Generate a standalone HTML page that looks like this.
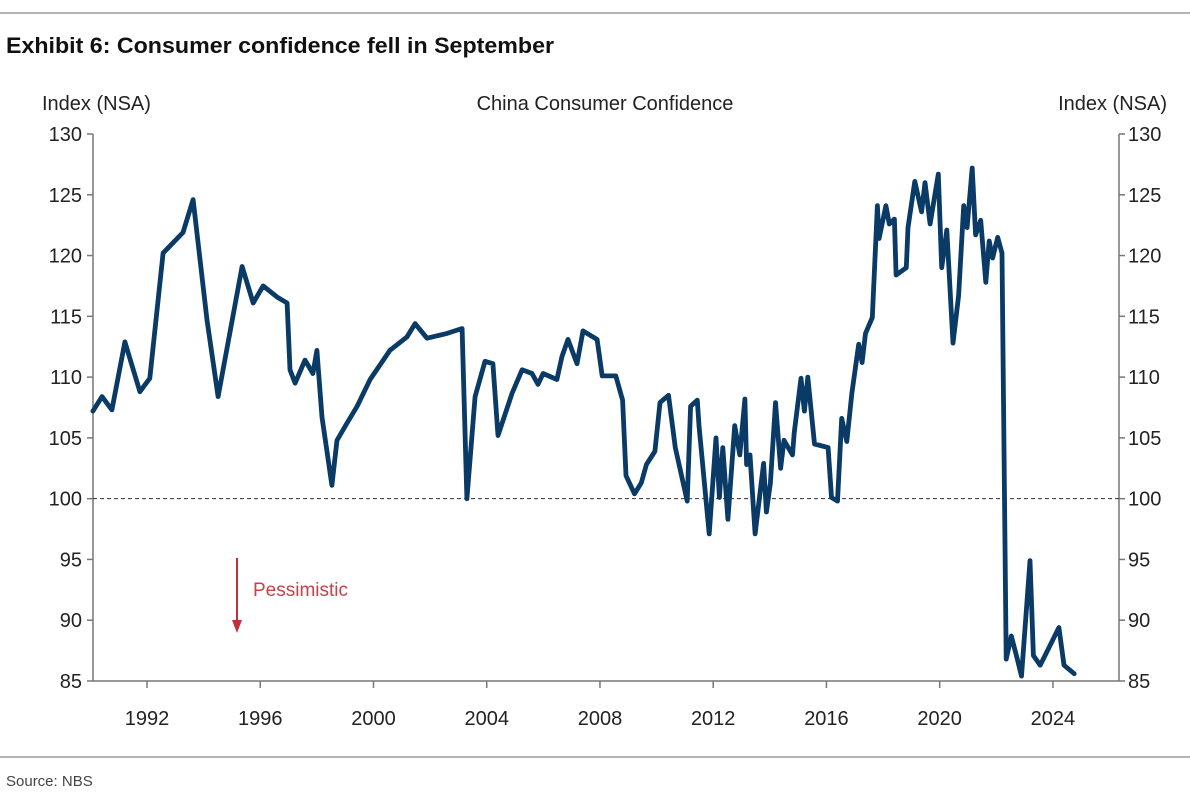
<!DOCTYPE html>
<html><head><meta charset="utf-8"><style>
body{margin:0;background:#fff;width:1190px;height:796px;overflow:hidden;font-family:"Liberation Sans",sans-serif}
</style></head><body>
<svg width="1190" height="796" xmlns="http://www.w3.org/2000/svg">
<line x1="0" y1="13" x2="1190" y2="13" stroke="#9a9a9a" stroke-width="1.5"/>
<text x="6" y="53" font-size="22" font-weight="bold" fill="#111" textLength="548" lengthAdjust="spacingAndGlyphs">Exhibit 6: Consumer confidence fell in September</text>
<text x="42" y="110" font-size="20" fill="#222">Index (NSA)</text>
<text x="1167" y="110" font-size="20" fill="#222" text-anchor="end">Index (NSA)</text>
<text x="605" y="110" font-size="20" fill="#222" text-anchor="middle">China Consumer Confidence</text>
<g id="axes"></g>
<g id="series"></g>
<line x1="237" y1="558" x2="237" y2="622" stroke="#c0313c" stroke-width="2"/>
<polygon points="232,620 242,620 237,633" fill="#c0313c"/>
<text x="253" y="596" font-size="19" fill="#c8404a">Pessimistic</text>
<line x1="0" y1="757" x2="1190" y2="757" stroke="#9a9a9a" stroke-width="1.5"/>
<text x="6" y="786" font-size="15" fill="#444">Source: NBS</text>
</svg>
<script>
const yTicks=[85,90,95,100,105,110,115,120,125,130];
const xTickYears=[1992,1996,2000,2004,2008,2012,2016,2020,2024];
const years=[1990.09,1990.41,1990.76,1991.22,1991.75,1992.1,1992.57,1993.27,1993.63,1994.12,1994.51,1995.36,1995.75,1996.1,1996.59,1996.95,1997.05,1997.23,1997.58,1997.86,1998.0,1998.18,1998.53,1998.71,1999.06,1999.42,1999.88,2000.58,2001.18,2001.47,2001.89,2002.6,2003.13,2003.3,2003.59,2003.94,2004.22,2004.4,2004.9,2005.25,2005.6,2005.81,2005.99,2006.48,2006.66,2006.87,2007.19,2007.4,2007.9,
2008.08,2008.56,2008.8,2008.92,2009.22,2009.46,2009.64,2009.94,2010.12,2010.42,2010.66,2011.08,2011.2,2011.44,2011.5,2011.86,2012.1,2012.22,2012.34,2012.52,2012.76,2012.94,2013.12,2013.18,2013.3,2013.48,2013.78,2013.88,2014.02,2014.2,2014.38,2014.5,2014.8,2014.86,2015.1,2015.22,2015.34,2015.58,2016.06,2016.18,2016.39,2016.54,2016.72,2016.9,2017.14,2017.26,2017.38,2017.62,2017.8,2017.86,2018.1,2018.22,2018.4,2018.46,2018.82,2018.88,2019.12,2019.36,2019.48,2019.66,2019.78,2019.95,2020.07,2020.25,2020.47,2020.67,2020.85,2020.97,2021.15,2021.27,2021.45,2021.63,2021.75,2021.87,2022.05,2022.2,2022.29,2022.35,2022.53,2022.71,2022.89,2023.19,2023.31,2023.55,2023.85,2024.21,2024.39,2024.75];
const values=[107.2,108.4,107.3,112.9,108.8,109.9,120.2,121.9,124.6,114.7,108.4,119.1,116.1,117.5,116.6,116.1,110.6,109.5,111.4,110.3,112.2,106.7,101.1,104.8,106.2,107.6,109.8,112.2,113.3,114.4,113.2,113.6,114.0,100.0,108.4,111.3,111.1,105.2,108.7,110.6,110.3,109.4,110.3,109.8,111.7,113.1,111.1,113.8,113.1,
110.1,110.1,108.1,101.9,100.4,101.3,102.8,103.9,107.9,108.5,104.2,99.8,107.6,108.1,106.0,97.1,105.0,100.1,104.2,98.3,106.0,103.6,108.2,102.8,103.6,97.1,102.9,98.9,101.3,107.9,102.5,104.8,103.6,105.4,109.9,107.2,110.0,104.5,104.2,100.1,99.8,106.6,104.7,108.7,112.7,111.2,113.6,114.9,124.1,121.4,124.1,122.6,123.0,118.4,119.0,122.3,126.1,123.6,126.0,122.6,124.3,126.7,119.0,122.1,112.8,116.7,124.1,122.3,127.2,121.7,122.9,117.8,121.2,119.8,121.5,120.2,100.1,86.8,88.7,87.1,85.4,94.9,87.1,86.3,87.7,89.4,86.3,85.6];

const L=93,R=1119,T=134,B=681;
const xs=y=>147+(y-1992)*28.31;
const ys=v=>B-(v-85)*(B-T)/45;
const NS="http://www.w3.org/2000/svg";
const ax=document.getElementById('axes');
function mk(tag,attrs,parent){const e=document.createElementNS(NS,tag);for(const k in attrs)e.setAttribute(k,attrs[k]);parent.appendChild(e);return e;}
let e;
e=mk('line',{x1:L,y1:T,x2:L,y2:B,stroke:'#777','stroke-width':1.5},ax);


e=mk('line',{x1:R,y1:T,x2:R,y2:B,stroke:'#777','stroke-width':1.5},ax);


e=mk('line',{x1:L,y1:B,x2:R,y2:B,stroke:'#777','stroke-width':1.5},ax);


e=mk('line',{x1:L,y1:ys(100),x2:R,y2:ys(100),stroke:'#333','stroke-width':1,'stroke-dasharray':'4,3'},ax);


yTicks.forEach(v=>{
  const y=ys(v);
  mk('line',{x1:L-6,y1:y,x2:L,y2:y,stroke:'#777','stroke-width':1.5},ax);
  mk('line',{x1:R,y1:y,x2:R+6,y2:y,stroke:'#777','stroke-width':1.5},ax);
  let t=mk('text',{x:82,y:y+7,'font-size':20,fill:'#222','text-anchor':'end'},ax);t.textContent=v;
  
  
  t=mk('text',{x:1128,y:y+7,'font-size':20,fill:'#222'},ax);t.textContent=v;
  
  
});
xTickYears.forEach(yr=>{
  const x=xs(yr);
  mk('line',{x1:x,y1:B,x2:x,y2:B+7,stroke:'#777','stroke-width':1.5},ax);
  let t=mk('text',{x:x,y:725,'font-size':20,fill:'#222','text-anchor':'middle'},ax);t.textContent=yr;
  
  
});
const d=years.map((yr,i)=>(i?'L':'M')+xs(yr).toFixed(1)+','+ys(values[i]).toFixed(1)).join('');
e=mk('path',{d:d,fill:'none',stroke:'#0a3a66','stroke-width':4.8,'stroke-linejoin':'round','stroke-linecap':'round'},document.getElementById('series'));


</script>
</body></html>
